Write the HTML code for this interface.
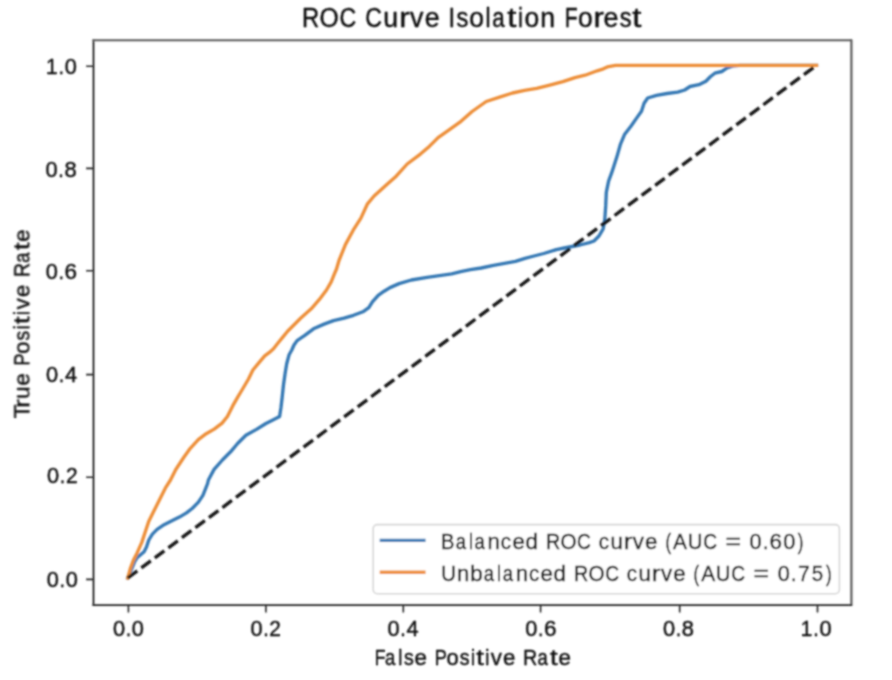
<!DOCTYPE html>
<html><head><meta charset="utf-8"><title>ROC Curve Isolation Forest</title>
<style>html,body{margin:0;padding:0;background:#fff;width:892px;height:680px;overflow:hidden}svg{display:block}</style>
</head><body>
<svg width="892" height="680" viewBox="0 0 892 680">
<defs><filter id="bl" x="0" y="0" width="892" height="680" filterUnits="userSpaceOnUse"><feConvolveMatrix order="5" kernelMatrix="1.42 9.04 16.75 9.04 1.42 9.04 57.57 106.73 57.57 9.04 16.75 106.73 197.86 106.73 16.75 9.04 57.57 106.73 57.57 9.04 1.42 9.04 16.75 9.04 1.42" divisor="1000.06" edgeMode="none"/></filter></defs>
<rect width="892" height="680" fill="#fff"/>
<g filter="url(#bl)">
<path d="M127.8,578.0 L131.3,569.8 L134.5,562.0 L137.1,557.6 L144.1,551.8 L146.5,547.1 L148.8,540.0 L152.4,534.1 L157.1,529.4 L164.1,524.7 L172.4,520.6 L179.4,517.1 L186.5,512.9 L192.4,508.2 L198.2,502.4 L202.9,495.3 L205.3,489.4 L207.6,483.5 L208.4,480.0 L214.1,469.4 L222.4,460.0 L230.6,451.8 L237.6,443.5 L245.9,435.3 L256.5,429.4 L265.9,423.5 L272.9,420.0 L279.6,416.5 L281.0,407.3 L282.2,397.0 L283.5,384.7 L285.1,373.4 L286.7,363.7 L289.1,354.8 L291.8,350.0 L294.0,345.0 L297.1,340.6 L304.1,335.9 L313.5,328.8 L324.1,324.1 L333.5,320.6 L344.1,318.2 L353.5,315.3 L362.9,311.8 L368.8,307.6 L372.4,301.8 L378.2,295.3 L384.1,291.2 L390.0,287.6 L399.1,283.6 L411.4,280.0 L427.1,277.3 L439.4,275.6 L451.7,273.8 L460.7,271.7 L470.4,269.7 L481.2,268.0 L493.5,265.3 L504.5,263.4 L515.5,261.4 L525.0,258.3 L534.0,256.0 L543.8,253.5 L556.3,249.6 L564.2,248.0 L572.0,246.5 L580.0,245.0 L589.3,242.6 L594.0,241.0 L598.7,236.3 L603.2,228.8 L604.8,219.3 L605.7,205.9 L606.3,192.4 L608.6,181.2 L611.9,172.2 L616.8,157.1 L620.3,144.7 L624.7,134.2 L630.9,126.2 L637.1,117.4 L641.5,111.2 L644.1,103.3 L647.7,98.0 L656.5,95.3 L667.1,93.5 L677.7,92.1 L684.7,90.0 L690.0,86.5 L698.9,84.7 L705.9,81.2 L710.3,76.8 L714.8,73.2 L721.8,71.5 L727.1,67.9 L732.4,66.2 L740.0,65.3 L816.5,65.3" fill="none" stroke="#3578b4" stroke-width="3.35" stroke-linejoin="round" stroke-linecap="square"/>
<path d="M127.8,578.0 L130.5,568.0 L133.5,560.0 L137.1,552.9 L141.8,542.4 L145.3,531.8 L148.8,521.2 L153.5,511.8 L159.4,500.0 L165.3,488.2 L170.5,480.0 L175.8,469.5 L183.7,457.5 L190.3,448.3 L198.3,439.7 L206.2,433.7 L214.2,429.1 L222.1,423.1 L227.4,416.5 L232.7,405.9 L238.0,396.6 L242.0,390.0 L248.5,379.0 L252.9,370.0 L258.8,362.9 L264.7,355.9 L269.4,352.4 L273.5,348.8 L277.6,343.5 L282.4,337.6 L287.6,331.2 L295.6,323.2 L300.6,318.2 L311.2,308.8 L319.4,299.4 L326.5,290.0 L331.2,281.8 L334.1,274.7 L336.5,269.0 L339.0,260.5 L345.4,244.6 L353.2,230.2 L360.9,218.1 L367.5,203.8 L374.1,196.0 L387.4,183.9 L396.2,176.2 L407.2,164.0 L420.4,154.1 L429.3,146.4 L438.1,137.6 L449.1,129.9 L461.0,121.3 L472.1,111.5 L486.2,101.5 L500.4,96.8 L512.5,93.0 L524.6,90.4 L536.7,88.3 L548.8,85.3 L562.9,81.7 L575.0,77.6 L585.1,75.2 L597.2,70.8 L603.4,68.8 L607.3,66.9 L615.5,65.3 L816.5,65.3" fill="none" stroke="#ed8e39" stroke-width="3.35" stroke-linejoin="round" stroke-linecap="square"/>
<path d="M127.8,578 L816.5,65.2" fill="none" stroke="#151515" stroke-width="3.4" stroke-dasharray="11.77 5.09"/>
<path d="M93.5,39.5V606.0" stroke="#000" stroke-width="1.6"/>
<path d="M92.5,40.2H852.0" stroke="#585858" stroke-width="2.1"/>
<path d="M851.4,39.5V606.0" stroke="#5a5a5a" stroke-width="2.2"/>
<path d="M92.5,605.15H852.0" stroke="#222" stroke-width="1.9"/>
<path d="M128.4,605.0V612.4M265.9,605.0V612.4M403.3,605.0V612.4M540.6,605.0V612.4M679.7,605.0V612.4M817.5,605.0V612.4M93.5,579.4H86.1M93.5,477.2H86.1M93.5,374.6H86.1M93.5,270.8H86.1M93.5,168.4H86.1M93.5,66.2H86.1" stroke="#222" stroke-width="1.6" fill="none"/>
<g font-family="'Liberation Sans', sans-serif" fill="#111" stroke="#111" stroke-width="0.45" stroke-linejoin="round">
<text y="635.85" font-size="22.47"><tspan x="112.90" textLength="12.09" lengthAdjust="spacingAndGlyphs">0</tspan><tspan x="125.64" textLength="5.50" lengthAdjust="spacingAndGlyphs">.</tspan><tspan x="131.82" textLength="12.09" lengthAdjust="spacingAndGlyphs">0</tspan></text>
<text y="635.85" font-size="22.47"><tspan x="250.39" textLength="12.09" lengthAdjust="spacingAndGlyphs">0</tspan><tspan x="263.14" textLength="5.50" lengthAdjust="spacingAndGlyphs">.</tspan><tspan x="269.29" textLength="11.62" lengthAdjust="spacingAndGlyphs">2</tspan></text>
<text y="635.85" font-size="22.47"><tspan x="387.59" textLength="12.09" lengthAdjust="spacingAndGlyphs">0</tspan><tspan x="400.33" textLength="5.50" lengthAdjust="spacingAndGlyphs">.</tspan><tspan x="406.50" textLength="12.10" lengthAdjust="spacingAndGlyphs">4</tspan></text>
<text y="635.85" font-size="22.47"><tspan x="525.31" textLength="12.09" lengthAdjust="spacingAndGlyphs">0</tspan><tspan x="538.06" textLength="5.50" lengthAdjust="spacingAndGlyphs">.</tspan><tspan x="544.02" textLength="12.51" lengthAdjust="spacingAndGlyphs">6</tspan></text>
<text y="635.85" font-size="22.47"><tspan x="662.92" textLength="12.09" lengthAdjust="spacingAndGlyphs">0</tspan><tspan x="675.67" textLength="5.50" lengthAdjust="spacingAndGlyphs">.</tspan><tspan x="681.77" textLength="12.21" lengthAdjust="spacingAndGlyphs">8</tspan></text>
<text y="635.85" font-size="22.47"><tspan x="800.73" textLength="11.49" lengthAdjust="spacingAndGlyphs">1</tspan><tspan x="813.28" textLength="5.50" lengthAdjust="spacingAndGlyphs">.</tspan><tspan x="819.46" textLength="12.09" lengthAdjust="spacingAndGlyphs">0</tspan></text>
<text y="587.2" font-size="22.47"><tspan x="46.79" textLength="12.09" lengthAdjust="spacingAndGlyphs">0</tspan><tspan x="59.54" textLength="5.50" lengthAdjust="spacingAndGlyphs">.</tspan><tspan x="65.71" textLength="12.09" lengthAdjust="spacingAndGlyphs">0</tspan></text>
<text y="483.4" font-size="22.47"><tspan x="46.99" textLength="12.09" lengthAdjust="spacingAndGlyphs">0</tspan><tspan x="59.74" textLength="5.50" lengthAdjust="spacingAndGlyphs">.</tspan><tspan x="65.88" textLength="11.62" lengthAdjust="spacingAndGlyphs">2</tspan></text>
<text y="381.6" font-size="22.47"><tspan x="46.07" textLength="12.09" lengthAdjust="spacingAndGlyphs">0</tspan><tspan x="58.82" textLength="5.50" lengthAdjust="spacingAndGlyphs">.</tspan><tspan x="64.98" textLength="12.10" lengthAdjust="spacingAndGlyphs">4</tspan></text>
<text y="278.6" font-size="22.47"><tspan x="45.82" textLength="12.09" lengthAdjust="spacingAndGlyphs">0</tspan><tspan x="58.57" textLength="5.50" lengthAdjust="spacingAndGlyphs">.</tspan><tspan x="64.53" textLength="12.51" lengthAdjust="spacingAndGlyphs">6</tspan></text>
<text y="177.2" font-size="22.47"><tspan x="45.53" textLength="12.09" lengthAdjust="spacingAndGlyphs">0</tspan><tspan x="58.28" textLength="5.50" lengthAdjust="spacingAndGlyphs">.</tspan><tspan x="64.39" textLength="12.21" lengthAdjust="spacingAndGlyphs">8</tspan></text>
<text y="74.15" font-size="22.47"><tspan x="45.99" textLength="11.49" lengthAdjust="spacingAndGlyphs">1</tspan><tspan x="58.54" textLength="5.50" lengthAdjust="spacingAndGlyphs">.</tspan><tspan x="64.71" textLength="12.09" lengthAdjust="spacingAndGlyphs">0</tspan></text>
<text y="665.3" font-size="22.47"><tspan x="374.81" textLength="10.73" lengthAdjust="spacingAndGlyphs">F</tspan><tspan x="384.91" textLength="10.28" lengthAdjust="spacingAndGlyphs">a</tspan><tspan x="398.19" textLength="4.06" lengthAdjust="spacingAndGlyphs">l</tspan><tspan x="403.91" textLength="9.82" lengthAdjust="spacingAndGlyphs">s</tspan><tspan x="414.59" textLength="12.39" lengthAdjust="spacingAndGlyphs">e</tspan><tspan x="427.26"> </tspan><tspan x="434.74" textLength="12.14" lengthAdjust="spacingAndGlyphs">P</tspan><tspan x="446.44" textLength="12.19" lengthAdjust="spacingAndGlyphs">o</tspan><tspan x="459.77" textLength="9.82" lengthAdjust="spacingAndGlyphs">s</tspan><tspan x="470.99" textLength="4.06" lengthAdjust="spacingAndGlyphs">i</tspan><tspan x="476.27" textLength="7.55" lengthAdjust="spacingAndGlyphs">t</tspan><tspan x="485.20" textLength="4.06" lengthAdjust="spacingAndGlyphs">i</tspan><tspan x="490.87" textLength="11.14" lengthAdjust="spacingAndGlyphs">v</tspan><tspan x="503.09" textLength="12.39" lengthAdjust="spacingAndGlyphs">e</tspan><tspan x="515.77"> </tspan><tspan x="523.12" textLength="14.28" lengthAdjust="spacingAndGlyphs">R</tspan><tspan x="537.42" textLength="10.28" lengthAdjust="spacingAndGlyphs">a</tspan><tspan x="550.09" textLength="7.55" lengthAdjust="spacingAndGlyphs">t</tspan><tspan x="558.47" textLength="12.39" lengthAdjust="spacingAndGlyphs">e</tspan></text>
<text y="0" font-size="22.47" transform="translate(29.3,418.1) rotate(-90)"><tspan x="-0.36" textLength="13.81" lengthAdjust="spacingAndGlyphs">T</tspan><tspan x="10.25" textLength="8.65" lengthAdjust="spacingAndGlyphs">r</tspan><tspan x="19.13" textLength="12.33" lengthAdjust="spacingAndGlyphs">u</tspan><tspan x="32.44" textLength="12.39" lengthAdjust="spacingAndGlyphs">e</tspan><tspan x="45.11"> </tspan><tspan x="52.59" textLength="12.14" lengthAdjust="spacingAndGlyphs">P</tspan><tspan x="64.29" textLength="12.19" lengthAdjust="spacingAndGlyphs">o</tspan><tspan x="77.62" textLength="9.82" lengthAdjust="spacingAndGlyphs">s</tspan><tspan x="88.84" textLength="4.06" lengthAdjust="spacingAndGlyphs">i</tspan><tspan x="94.12" textLength="7.55" lengthAdjust="spacingAndGlyphs">t</tspan><tspan x="103.05" textLength="4.06" lengthAdjust="spacingAndGlyphs">i</tspan><tspan x="108.72" textLength="11.14" lengthAdjust="spacingAndGlyphs">v</tspan><tspan x="120.94" textLength="12.39" lengthAdjust="spacingAndGlyphs">e</tspan><tspan x="133.62"> </tspan><tspan x="140.97" textLength="14.28" lengthAdjust="spacingAndGlyphs">R</tspan><tspan x="155.27" textLength="10.28" lengthAdjust="spacingAndGlyphs">a</tspan><tspan x="167.94" textLength="7.55" lengthAdjust="spacingAndGlyphs">t</tspan><tspan x="176.32" textLength="12.39" lengthAdjust="spacingAndGlyphs">e</tspan></text>
<text y="26.8" font-size="26.97"><tspan x="301.99" textLength="17.21" lengthAdjust="spacingAndGlyphs">R</tspan><tspan x="319.39" textLength="19.23" lengthAdjust="spacingAndGlyphs">O</tspan><tspan x="339.42" textLength="16.72" lengthAdjust="spacingAndGlyphs">C</tspan><tspan x="356.79"> </tspan><tspan x="365.28" textLength="16.72" lengthAdjust="spacingAndGlyphs">C</tspan><tspan x="383.22" textLength="14.87" lengthAdjust="spacingAndGlyphs">u</tspan><tspan x="399.15" textLength="10.46" lengthAdjust="spacingAndGlyphs">r</tspan><tspan x="410.06" textLength="13.43" lengthAdjust="spacingAndGlyphs">v</tspan><tspan x="424.72" textLength="14.93" lengthAdjust="spacingAndGlyphs">e</tspan><tspan x="439.96"> </tspan><tspan x="448.51" textLength="6.58" lengthAdjust="spacingAndGlyphs">I</tspan><tspan x="456.43" textLength="11.85" lengthAdjust="spacingAndGlyphs">s</tspan><tspan x="469.26" textLength="14.69" lengthAdjust="spacingAndGlyphs">o</tspan><tspan x="485.41" textLength="5.02" lengthAdjust="spacingAndGlyphs">l</tspan><tspan x="492.19" textLength="12.40" lengthAdjust="spacingAndGlyphs">a</tspan><tspan x="507.39" textLength="9.12" lengthAdjust="spacingAndGlyphs">t</tspan><tspan x="518.07" textLength="5.02" lengthAdjust="spacingAndGlyphs">i</tspan><tspan x="524.55" textLength="14.69" lengthAdjust="spacingAndGlyphs">o</tspan><tspan x="540.36" textLength="14.87" lengthAdjust="spacingAndGlyphs">n</tspan><tspan x="555.80"> </tspan><tspan x="564.80" textLength="12.95" lengthAdjust="spacingAndGlyphs">F</tspan><tspan x="578.07" textLength="14.69" lengthAdjust="spacingAndGlyphs">o</tspan><tspan x="593.57" textLength="10.46" lengthAdjust="spacingAndGlyphs">r</tspan><tspan x="603.51" textLength="14.93" lengthAdjust="spacingAndGlyphs">e</tspan><tspan x="619.63" textLength="11.85" lengthAdjust="spacingAndGlyphs">s</tspan><tspan x="632.35" textLength="9.12" lengthAdjust="spacingAndGlyphs">t</tspan></text>
</g>
<rect x="373.2" y="524.6" width="466.2" height="69.1" rx="4.2" ry="4.2" fill="#fff" fill-opacity="0.8" stroke="#d6d6d6" stroke-width="1.6"/>
<path d="M381.4,540.4H423.9" stroke="#3578b4" stroke-width="3.35" stroke-linecap="square"/>
<path d="M381.4,572.2H423.9" stroke="#ed8e39" stroke-width="3.35" stroke-linecap="square"/>
<g font-family="'Liberation Sans', sans-serif" fill="#111" stroke="#111" stroke-width="0.45" stroke-linejoin="round">
<text y="549.1" font-size="22.47"><tspan x="441.11" textLength="13.37" lengthAdjust="spacingAndGlyphs">B</tspan><tspan x="455.71" textLength="10.28" lengthAdjust="spacingAndGlyphs">a</tspan><tspan x="468.98" textLength="4.06" lengthAdjust="spacingAndGlyphs">l</tspan><tspan x="474.60" textLength="10.28" lengthAdjust="spacingAndGlyphs">a</tspan><tspan x="487.56" textLength="12.33" lengthAdjust="spacingAndGlyphs">n</tspan><tspan x="500.85" textLength="10.29" lengthAdjust="spacingAndGlyphs">c</tspan><tspan x="512.43" textLength="12.39" lengthAdjust="spacingAndGlyphs">e</tspan><tspan x="525.49" textLength="12.45" lengthAdjust="spacingAndGlyphs">d</tspan><tspan x="538.57"> </tspan><tspan x="545.92" textLength="14.28" lengthAdjust="spacingAndGlyphs">R</tspan><tspan x="560.42" textLength="15.97" lengthAdjust="spacingAndGlyphs">O</tspan><tspan x="577.11" textLength="13.88" lengthAdjust="spacingAndGlyphs">C</tspan><tspan x="591.56"> </tspan><tspan x="598.74" textLength="10.29" lengthAdjust="spacingAndGlyphs">c</tspan><tspan x="610.47" textLength="12.33" lengthAdjust="spacingAndGlyphs">u</tspan><tspan x="623.75" textLength="8.65" lengthAdjust="spacingAndGlyphs">r</tspan><tspan x="632.83" textLength="11.14" lengthAdjust="spacingAndGlyphs">v</tspan><tspan x="645.05" textLength="12.39" lengthAdjust="spacingAndGlyphs">e</tspan><tspan x="657.72"> </tspan><tspan x="665.40" textLength="5.59" lengthAdjust="spacingAndGlyphs">(</tspan><tspan x="673.02" textLength="13.95" lengthAdjust="spacingAndGlyphs">A</tspan><tspan x="687.68" textLength="14.67" lengthAdjust="spacingAndGlyphs">U</tspan><tspan x="703.14" textLength="13.88" lengthAdjust="spacingAndGlyphs">C</tspan><tspan x="717.58"> </tspan><tspan x="725.42" textLength="15.60" lengthAdjust="spacingAndGlyphs">=</tspan><tspan x="742.10"> </tspan><tspan x="749.54" textLength="12.09" lengthAdjust="spacingAndGlyphs">0</tspan><tspan x="762.94" textLength="5.50" lengthAdjust="spacingAndGlyphs">.</tspan><tspan x="769.57" textLength="12.51" lengthAdjust="spacingAndGlyphs">6</tspan><tspan x="783.27" textLength="12.09" lengthAdjust="spacingAndGlyphs">0</tspan><tspan x="797.82" textLength="5.59" lengthAdjust="spacingAndGlyphs">)</tspan></text>
<text y="581.2" font-size="22.47"><tspan x="441.18" textLength="14.67" lengthAdjust="spacingAndGlyphs">U</tspan><tspan x="456.89" textLength="12.33" lengthAdjust="spacingAndGlyphs">n</tspan><tspan x="470.36" textLength="12.46" lengthAdjust="spacingAndGlyphs">b</tspan><tspan x="483.83" textLength="10.28" lengthAdjust="spacingAndGlyphs">a</tspan><tspan x="497.10" textLength="4.06" lengthAdjust="spacingAndGlyphs">l</tspan><tspan x="502.72" textLength="10.28" lengthAdjust="spacingAndGlyphs">a</tspan><tspan x="515.68" textLength="12.33" lengthAdjust="spacingAndGlyphs">n</tspan><tspan x="528.96" textLength="10.29" lengthAdjust="spacingAndGlyphs">c</tspan><tspan x="540.55" textLength="12.39" lengthAdjust="spacingAndGlyphs">e</tspan><tspan x="553.61" textLength="12.45" lengthAdjust="spacingAndGlyphs">d</tspan><tspan x="566.69"> </tspan><tspan x="574.04" textLength="14.28" lengthAdjust="spacingAndGlyphs">R</tspan><tspan x="588.54" textLength="15.97" lengthAdjust="spacingAndGlyphs">O</tspan><tspan x="605.23" textLength="13.88" lengthAdjust="spacingAndGlyphs">C</tspan><tspan x="619.67"> </tspan><tspan x="626.86" textLength="10.29" lengthAdjust="spacingAndGlyphs">c</tspan><tspan x="638.59" textLength="12.33" lengthAdjust="spacingAndGlyphs">u</tspan><tspan x="651.87" textLength="8.65" lengthAdjust="spacingAndGlyphs">r</tspan><tspan x="660.95" textLength="11.14" lengthAdjust="spacingAndGlyphs">v</tspan><tspan x="673.17" textLength="12.39" lengthAdjust="spacingAndGlyphs">e</tspan><tspan x="685.84"> </tspan><tspan x="693.51" textLength="5.59" lengthAdjust="spacingAndGlyphs">(</tspan><tspan x="701.13" textLength="13.95" lengthAdjust="spacingAndGlyphs">A</tspan><tspan x="715.79" textLength="14.67" lengthAdjust="spacingAndGlyphs">U</tspan><tspan x="731.26" textLength="13.88" lengthAdjust="spacingAndGlyphs">C</tspan><tspan x="745.70"> </tspan><tspan x="753.54" textLength="15.60" lengthAdjust="spacingAndGlyphs">=</tspan><tspan x="770.22"> </tspan><tspan x="777.66" textLength="12.09" lengthAdjust="spacingAndGlyphs">0</tspan><tspan x="791.06" textLength="5.50" lengthAdjust="spacingAndGlyphs">.</tspan><tspan x="798.00" textLength="11.80" lengthAdjust="spacingAndGlyphs">7</tspan><tspan x="811.66" textLength="11.38" lengthAdjust="spacingAndGlyphs">5</tspan><tspan x="825.93" textLength="5.59" lengthAdjust="spacingAndGlyphs">)</tspan></text>
</g>
</g></svg>
</body></html>
